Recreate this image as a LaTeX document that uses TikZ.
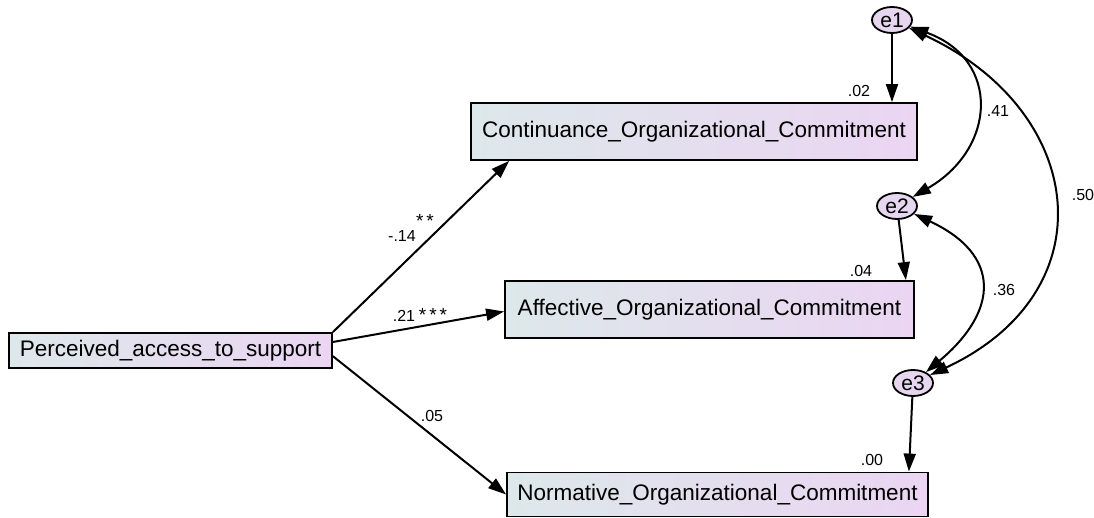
\documentclass[tikz,border=0pt]{standalone}
\usepackage{fontspec}
\setmainfont{Liberation Sans}
\usetikzlibrary{arrows.meta, shapes.geometric, positioning}

\definecolor{boxleft}{HTML}{DDE8EA}
\definecolor{boxright}{HTML}{EBD5F3}
\definecolor{errfill}{HTML}{E6D6EF}

\begin{document}
\begin{tikzpicture}[x=0.5pt, y=-0.5pt,
    var/.style={draw, line width=0.9pt, rectangle, left color=boxleft, right color=boxright,
        font=\fontsize{11.25}{13}\selectfont, inner sep=0pt, minimum height=28.5pt},
    err/.style={draw, line width=0.9pt, ellipse, fill=errfill, font=\fontsize{10.5}{12}\selectfont,
        inner sep=0pt, minimum width=20pt, minimum height=13pt},
    reg/.style={line width=1pt, -{Triangle[length=9pt, width=6pt]}},
    cov/.style={line width=1pt, {Triangle[length=9pt, width=6pt]}-{Triangle[length=9pt, width=6pt]}},
    est/.style={font=\fontsize{8}{9}\selectfont, inner sep=0pt},
    stars/.style={font=\fontsize{9.5}{10}\selectfont, inner sep=0pt},
]
    \useasboundingbox (0,0) rectangle (1094,518);

    % Observed variables
    \node[var, minimum width=161.5pt, minimum height=17.5pt] (pas) at (170.5,350.5) {Perceived\_access\_to\_support};
    \node[var, minimum width=223pt] (coc) at (694,131.5) {Continuance\_Organizational\_Commitment};
    \node[var, minimum width=204.5pt] (aoc) at (709.5,309.5) {Affective\_Organizational\_Commitment};
    \node[var, minimum width=210.5pt, minimum height=22pt] (noc) at (717.5,494.5) {Normative\_Organizational\_Commitment};

    % Error terms
    \node[err] (e1) at (892,20) {e1};
    \node[err] (e2) at (897,206) {e2};
    \node[err] (e3) at (913,383) {e3};

    % Regression paths
    \draw[reg] (pas.north east) -- ([xshift=19.5pt]coc.south west);
    \draw[reg] (pas.3) -- ([yshift=-1pt]aoc.west);
    \draw[reg] (pas.-2.5) -- (noc.west);
    \draw[reg] (e1) -- (e1 |- coc.north);
    \draw[reg] (e2) -- ([xshift=-4.5pt]aoc.north east);
    \draw[reg] (e3) -- ([xshift=-10pt]noc.north east);

    % Error covariances
    \draw[cov] (e1) to[out=-20, in=30, looseness=1.45] (e2);
    \draw[cov] (e2) to[out=-25, in=40, looseness=1.55] (e3);
    \draw[cov] (e1) to[out=-25, in=25, looseness=1.45] (e3);

    % Estimates
    \node[est] (b1) at (402,236) {-.14};
    \node[stars] (s1) at (425,221) {*\kern1.5pt*};
    \node[est] (b2) at (404,316) {.21};
    \node[stars] (s2) at (433,315) {*\kern1.5pt*\kern1.5pt*};
    \node[est] (b3) at (432,416) {.05};
    \node[est] (r1) at (859,91) {.02};
    \node[est] (r2) at (861,271) {.04};
    \node[est] (r3) at (872,460) {.00};
    \node[est] (c12) at (998,111) {.41};
    \node[est] (c23) at (1004,290) {.36};
    \node[est] (c13) at (1083,195) {.50};
\end{tikzpicture}
\end{document}
